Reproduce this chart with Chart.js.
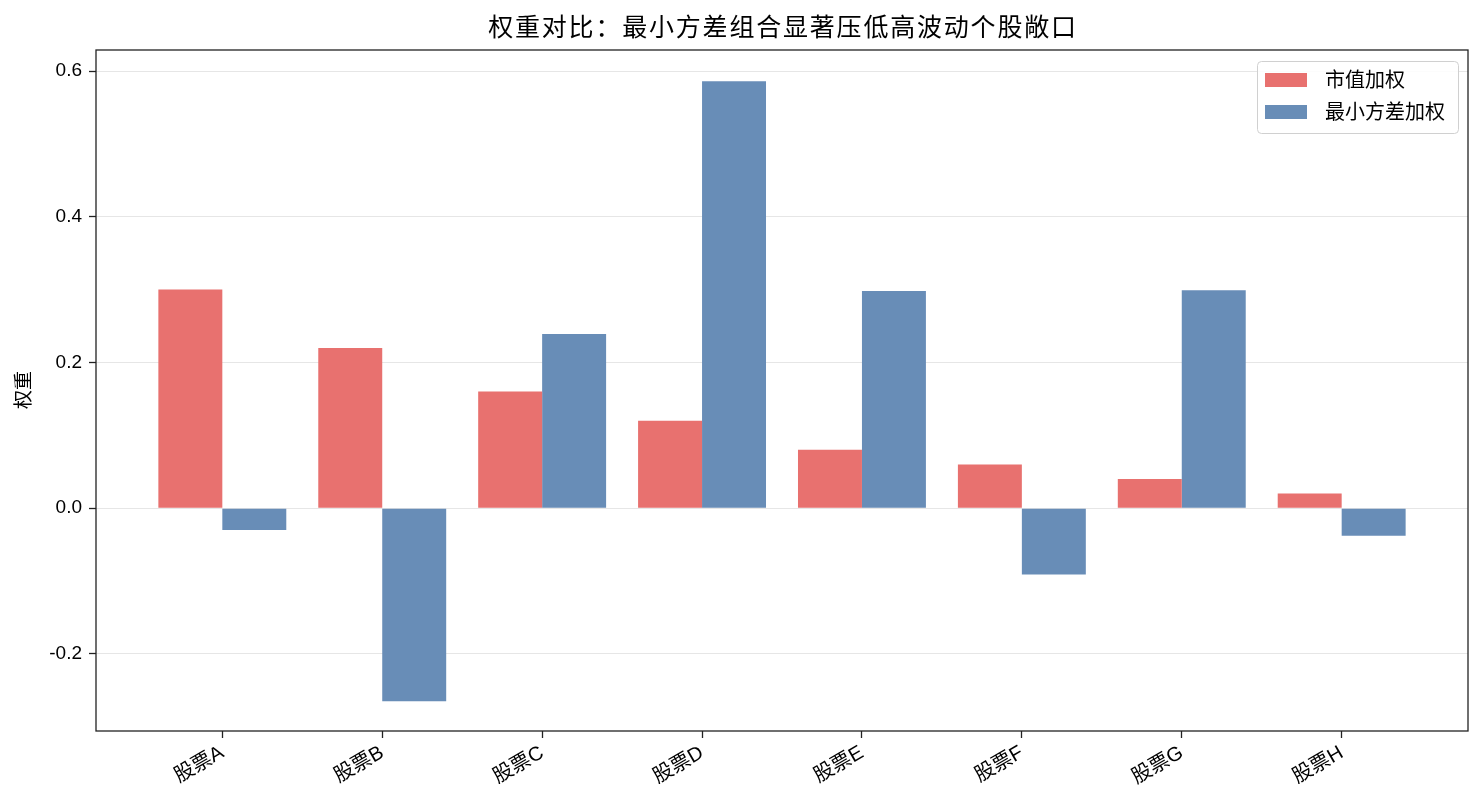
<!DOCTYPE html>
<html>
<head>
<meta charset="utf-8">
<script src="https://cdn.jsdelivr.net/npm/chart.js@4/dist/chart.umd.min.js"></script>
<style>
  html, body { margin: 0; padding: 0; background: #fff; }
  #wrap { width: 1483px; height: 809px; }
</style>
</head>
<body>
<div id="wrap"><canvas id="myChart" width="1483" height="809"></canvas></div>
<script>
const categories = ["股票A", "股票B", "股票C", "股票D", "股票E", "股票F", "股票G", "股票H"];
const marketCapWeights = [0.30, 0.22, 0.16, 0.12, 0.08, 0.06, 0.04, 0.02];
const minVarWeights = [-0.030, -0.265, 0.239, 0.586, 0.298, -0.091, 0.299, -0.038];
const yTicks = [-0.2, 0.0, 0.2, 0.4, 0.6];
const seriesNames = ["市值加权", "最小方差加权"];

const FONT = 'Arial, "Liberation Sans", "Noto Sans CJK SC", sans-serif';
const colors = ["#e8716f", "#688db7"];

// frame, title, y label and legend drawn like matplotlib
const decorations = {
  id: "decorations",
  afterDraw(chart) {
    const { ctx, chartArea: a } = chart;
    ctx.save();
    ctx.strokeStyle = "#222";
    ctx.lineWidth = 1.3;
    ctx.strokeRect(a.left, a.top, a.right - a.left, a.bottom - a.top);

    ctx.fillStyle = "#000";
    ctx.font = "25px " + FONT;
    ctx.letterSpacing = "1.8px";
    ctx.textAlign = "center";
    ctx.textBaseline = "middle";
    ctx.fillText("权重对比：最小方差组合显著压低高波动个股敞口", (a.left + a.right) / 2 + 1, 29);
    ctx.letterSpacing = "0px";

    ctx.font = "19px " + FONT;
    ctx.translate(25, 390);
    ctx.rotate(-Math.PI / 2);
    ctx.fillText("权重", 0, 0);
    ctx.restore();

    // legend box
    ctx.save();
    const bx = 1257, by = 61, bw = 201, bh = 72, r = 4;
    ctx.fillStyle = "rgba(255,255,255,0.85)";
    ctx.strokeStyle = "#d0d0d0";
    ctx.lineWidth = 1;
    ctx.beginPath();
    ctx.roundRect(bx + 0.5, by + 0.5, bw, bh, r);
    ctx.fill();
    ctx.stroke();
    ctx.font = "20px " + FONT;
    ctx.textAlign = "left";
    ctx.textBaseline = "middle";
    seriesNames.forEach((name, i) => {
      const cy = 80 + i * 32;
      ctx.fillStyle = colors[i];
      ctx.fillRect(1265, cy - 7, 42, 14);
      ctx.fillStyle = "#000";
      ctx.fillText(name, 1325, cy + 1);
    });
    ctx.restore();
  },
};

const ctx = document.getElementById("myChart").getContext("2d");

const datasets = seriesNames.map((name, i) => ({
  label: name,
  data: (i === 0 ? marketCapWeights : minVarWeights).map((v, j) => ({ x: j, y: v })),
  backgroundColor: colors[i],
  borderWidth: 0,
  barPercentage: 1.0,
  categoryPercentage: 0.8,
}));

new Chart(ctx, {
  type: "bar",
  data: { datasets },
  options: {
    responsive: false,
    animation: false,
    layout: { padding: { top: 50, right: 15, bottom: 0, left: 0 } },
    scales: {
      x: {
        type: "linear",
        offset: false,
        min: -0.79,
        max: 7.79,
        afterBuildTicks: (scale) => {
          scale.ticks = categories.map((_, i) => ({ value: i }));
        },
        afterFit: (scale) => { scale.height = 78; },
        grid: { offset: false, drawOnChartArea: false, tickLength: 7, tickColor: "#222", tickWidth: 1.3 },
        border: { display: false },
        ticks: {
          autoSkip: false,
          minRotation: 30,
          maxRotation: 30,
          padding: 3,
          color: "#000",
          font: { family: FONT, size: 20 },
          callback: (v) => categories[v],
        },
      },
      y: {
        min: -0.306,
        max: 0.629,
        afterBuildTicks: (scale) => {
          scale.ticks = yTicks.map((v) => ({ value: v }));
        },
        afterFit: (scale) => { scale.width = 96; },
        grid: { color: "#e6e6e6", lineWidth: 1, tickLength: 7, tickColor: "#222", tickWidth: 1.3 },
        border: { display: false },
        ticks: {
          padding: 7,
          color: "#000",
          font: { family: FONT, size: 19 },
          callback: (v) => v.toFixed(1),
        },
      },
    },
    plugins: {
      legend: { display: false },
      title: { display: false },
      tooltip: { enabled: false },
    },
  },
  plugins: [decorations],
});
</script>
</body>
</html>
